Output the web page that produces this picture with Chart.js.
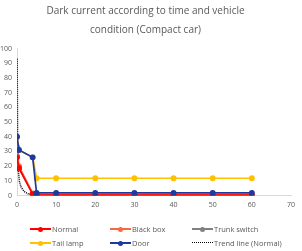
<!DOCTYPE html>
<html>
<head>
<meta charset="utf-8">
<script src="https://cdn.jsdelivr.net/npm/chart.js@4"></script>
<style>
  html, body { margin: 0; padding: 0; background: #fff; }
  #wrap { position: relative; width: 302px; height: 251px; font-family: "Open Sans", sans-serif; }
  .item { position: absolute; font-size: 7.5px; color: #595959; line-height: 10px; white-space: nowrap; }
  .mk { display: inline-block; width: 21px; height: 10px; position: relative; vertical-align: top; margin-right: 1px; }
  .mk::before { content: ''; position: absolute; left: 0; right: 0; top: 4px; border-top: 2px solid var(--c); }
  .mk.dot::after { content: ''; position: absolute; left: 8px; top: 2.5px; width: 5px; height: 5px; border-radius: 50%; background: var(--c); }
  .mk.dash::before { border-top: 1.5px dotted var(--c); }
</style>
</head>
<body>
<div id="wrap">
  <canvas id="chart" width="302" height="251"></canvas>
</div>
<script>
// time (min) on the x axis
const times = [0, 0.5, 4, 5, 10, 20, 30, 40, 50, 60];

const normal    = [26, 18.6, 1, 0.4, 0.3, 0.3, 0.3, 0.3, 0.3, 0.3];
const blackBox  = [33, 20, 1.5, 0.8, 0.6, 0.6, 0.6, 0.6, 0.6, 0.6];
const trunk     = [27, 19, 1.2, 0.7, 0.5, 0.5, 0.5, 0.5, 0.5, 0.5];
const tailLamp  = [40, 31, 26, 11.8, 11.8, 11.8, 11.8, 11.8, 11.8, 11.8];
const door      = [40, 31, 26, 1.8, 1.8, 1.8, 1.8, 1.8, 1.8, 1.8];

// trend line (Normal)
const trendTimes = [0.05, 0.15, 0.3, 0.6, 1, 1.5, 2, 3, 4, 5, 10, 20, 30, 40, 50, 60];
const trendVals  = [93, 40, 18, 10, 6, 4, 2.5, 1, 0.3, 0, 0, 0, 0, 0, 0, 0];

const xTicks = [0, 10, 20, 30, 40, 50, 60, 70];
const yTicks = [0, 10, 20, 30, 40, 50, 60, 70, 80, 90, 100];

const seriesNames = ['Normal', 'Black box', 'Trunk switch', 'Tail lamp', 'Door', 'Trend line (Normal)'];
const seriesColors = ['#ff0000', '#f26b43', '#808080', '#ffc000', '#1f3a9e', '#000000'];

function pts(xs, ys) {
  return xs.map((x, i) => ({ x: x, y: ys[i] }));
}

function series(i, values, order) {
  return {
    label: seriesNames[i],
    data: pts(times, values),
    borderColor: seriesColors[i],
    backgroundColor: seriesColors[i],
    borderWidth: 1.7,
    pointRadius: 2.1,
    pointHoverRadius: 2.1,
    order: order
  };
}

const datasets = [
  series(0, normal, 1),
  series(1, blackBox, 2),
  series(2, trunk, 3),
  series(3, tailLamp, 4),
  series(4, door, 0),
  {
    label: seriesNames[5],
    data: pts(trendTimes, trendVals),
    borderColor: '#000',
    borderWidth: 1.5,
    borderDash: [1, 1],
    pointRadius: 0,
    tension: 0,
    order: 5
  }
];

const tickFont = { family: '"Open Sans", sans-serif', size: 7 };

new Chart(document.getElementById('chart'), {
  type: 'line',
  data: { datasets: datasets },
  options: {
    responsive: false,
    animation: false,
    layout: { padding: { left: 0, right: 11, bottom: 37, top: 0 } },
    plugins: {
      legend: { display: false },
      tooltip: { enabled: false },
      title: {
        display: true,
        text: ['Dark current according to time and vehicle', 'condition (Compact car)'],
        color: '#595959',
        font: { family: '"Open Sans", sans-serif', size: 10, weight: 'normal', lineHeight: 1.9 },
        padding: { top: 2, bottom: 8.5 }
      }
    },
    scales: {
      x: {
        type: 'linear',
        min: 0,
        max: 70,
        afterBuildTicks: s => { s.ticks = xTicks.map(v => ({ value: v })); },
        ticks: { color: '#595959', font: tickFont, padding: 5, maxRotation: 0 },
        grid: { display: false, drawTicks: false },
        border: { color: '#d9d9d9' }
      },
      y: {
        min: 0,
        max: 100,
        afterBuildTicks: s => { s.ticks = yTicks.map(v => ({ value: v })); },
        afterFit: s => { s.width = 17; },
        ticks: { color: '#595959', font: tickFont, padding: 5 },
        grid: { display: false, drawTicks: false },
        border: { color: '#d9d9d9' }
      }
    }
  }
});

// legend laid out in a grid like the original
const legendPos = [[30, 224], [110, 224], [192, 224], [30, 238], [110, 238], [192, 238]];
const wrap = document.getElementById('wrap');
seriesNames.forEach((name, i) => {
  const el = document.createElement('div');
  el.className = 'item';
  el.style.left = legendPos[i][0] + 'px';
  el.style.top = legendPos[i][1] + 'px';
  const mk = document.createElement('span');
  mk.className = 'mk ' + (i === 5 ? 'dash' : 'dot');
  mk.style.setProperty('--c', seriesColors[i]);
  el.appendChild(mk);
  el.appendChild(document.createTextNode(name));
  wrap.appendChild(el);
});
</script>
</body>
</html>
